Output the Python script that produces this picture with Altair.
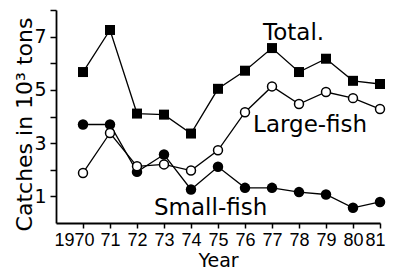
import altair as alt
import pandas as pd

years = list(range(1970, 1982))
total = [5.67, 7.25, 4.11, 4.07, 3.36, 5.04, 5.72, 6.57, 5.67, 6.17, 5.34, 5.22]
large_fish = [1.88, 3.38, 2.13, 2.20, 1.97, 2.73, 4.16, 5.13, 4.47, 4.92, 4.69, 4.28]
small_fish = [3.70, 3.70, 1.92, 2.57, 1.26, 2.11, 1.32, 1.32, 1.16, 1.07, 0.57, 0.79]

label_text = ["Total.", "Large-fish", "Small-fish"]
label_year = [1976.67, 1976.3, 1972.63]
label_value = [6.87, 3.43, 0.30]

df_total = pd.DataFrame({"year": years, "value": total})
df_large = pd.DataFrame({"year": years, "value": large_fish})
df_small = pd.DataFrame({"year": years, "value": small_fish})
df_labels = pd.DataFrame({"year": label_year, "value": label_value, "text": label_text})

x = alt.X(
    "year:Q",
    scale=alt.Scale(domain=[1969, 1981], nice=False, zero=False),
    axis=alt.Axis(
        values=years,
        labelExpr="datum.value == 1970 ? '1970' : substring(toString(datum.value), 2, 4)",
        title="Year",
        grid=False,
        domainColor="black",
        domainWidth=1.8,
        tickColor="black",
        tickWidth=1.5,
        tickSize=5,
        labelFont="Liberation Sans",
        labelFontSize=18,
        labelColor="black",
        labelPadding=3,
        labelFlush=False,
        labelOverlap=False,
        labelOffset={"expr": "datum.value == 1970 ? -9 : (datum.value == 1981 ? -5 : 0)"},
        titleFont="DejaVu Sans",
        titleFontSize=19,
        titleFontWeight="normal",
        titleColor="black",
        titlePadding=2,
    ),
)
y = alt.Y(
    "value:Q",
    scale=alt.Scale(domain=[0, 8], nice=False),
    axis=alt.Axis(
        values=[1, 2, 3, 4, 5, 6, 7, 8],
        labelExpr="datum.value % 2 == 1 ? datum.label : ''",
        title="Catches in 10³ tons",
        grid=False,
        domainColor="black",
        domainWidth=1.8,
        tickColor="black",
        tickWidth=1.5,
        tickSize=6,
        labelFont="DejaVu Sans",
        labelFontSize=19,
        labelColor="black",
        labelPadding=4,
        labelOverlap=False,
        titleFont="DejaVu Sans",
        titleFontSize=22,
        titleFontWeight="normal",
        titleColor="black",
        titleX=-32,
        titleY=114,
        titleAngle=270,
        titleAlign="center",
        titleBaseline="middle",
    ),
)

def line(df):
    return alt.Chart(df).mark_line(color="black", strokeWidth=1.3).encode(x=x, y=y)

lines = line(df_total) + line(df_large) + line(df_small)

small_pts = alt.Chart(df_small).mark_point(
    shape="circle", filled=True, color="black", size=110, opacity=1
).encode(x=x, y=y)
large_pts = alt.Chart(df_large).mark_point(
    shape="circle", filled=True, fill="white", stroke="black", strokeWidth=1.5, size=80, opacity=1
).encode(x=x, y=y)
total_pts = alt.Chart(df_total).mark_point(
    shape="square", filled=True, color="black", size=100, opacity=1
).encode(x=x, y=y)

labels = alt.Chart(df_labels).mark_text(
    align="left", baseline="alphabetic", font="DejaVu Sans", fontSize=23, color="black"
).encode(x=x, y=y, text="text:N")

chart = (lines + small_pts + large_pts + total_pts + labels).properties(
    width=324,
    height=213,
    autosize=alt.AutoSizeParams(type="none"),
    padding={"left": 48, "top": 2, "right": 6, "bottom": 48},
    background="white",
).configure_view(stroke=None)

chart.save("out.html", embed_options={"renderer": "svg", "actions": False})
